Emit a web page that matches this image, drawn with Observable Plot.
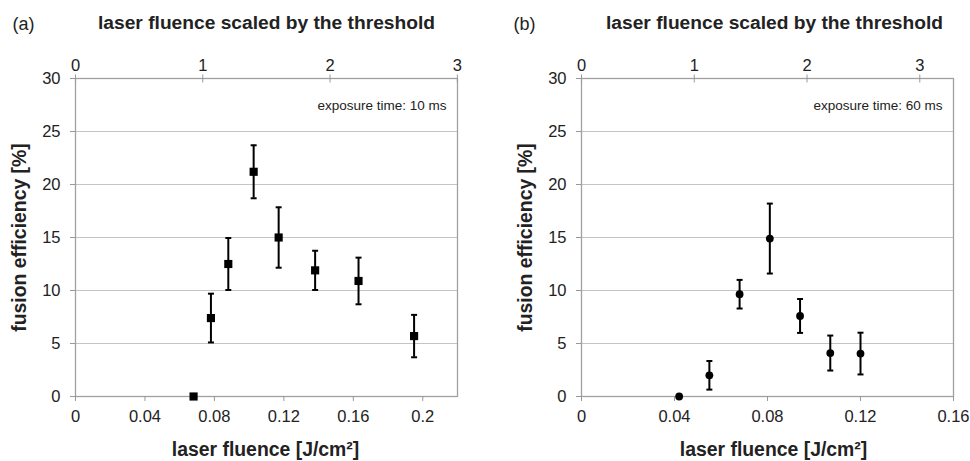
<!DOCTYPE html>
<html><head><meta charset="utf-8">
<script src="https://cdn.jsdelivr.net/npm/d3@7"></script>
<script src="https://cdn.jsdelivr.net/npm/@observablehq/plot@0.6"></script>
<style>
body{margin:0;background:#fff;}
#wrap{display:flex;width:970px;height:461px;overflow:hidden;}
#wrap svg{font-family:"Liberation Sans",Arial,sans-serif;display:block;}
</style></head><body><div id="wrap"></div>
<script>
const panelLabels = ["(a)", "(b)"];
const topTitle = "laser fluence scaled by the threshold";
const xTitle = "laser fluence [J/cm²]";
const yTitle = "fusion efficiency [%]";
const exposureLabels = ["exposure time: 10 ms", "exposure time: 60 ms"];

const yTicks = [0, 5, 10, 15, 20, 25, 30];
const topTickValues = [0, 1, 2, 3];
const topTickLabels = ["0", "1", "2", "3"];
const thresholdA = 0.0733; // J/cm² corresponding to scaled value 1
const thresholdB = 0.0485;

const xTicksA = [0, 0.04, 0.08, 0.12, 0.16, 0.2];
const xTickLabelsA = ["0", "0.04", "0.08", "0.12", "0.16", "0.2"];
const xTicksB = [0, 0.04, 0.08, 0.12, 0.16];
const xTickLabelsB = ["0", "0.04", "0.08", "0.12", "0.16"];

const fluenceA = [0.068, 0.078, 0.088, 0.1026, 0.117, 0.138, 0.163, 0.195];
const efficiencyA = [0, 7.4, 12.5, 21.2, 15.0, 11.9, 10.9, 5.7];
const errorA = [0, 2.3, 2.45, 2.5, 2.85, 1.85, 2.2, 2.0];

const fluenceB = [0.042, 0.055, 0.068, 0.081, 0.094, 0.107, 0.120];
const efficiencyB = [0, 2.0, 9.65, 14.9, 7.6, 4.1, 4.05];
const errorB = [0, 1.35, 1.35, 3.3, 1.6, 1.65, 1.97];

const capSymbol = {draw(ctx) { ctx.moveTo(-3, 0); ctx.lineTo(3, 0); }};
const vTickSymbol = {draw(ctx) { ctx.moveTo(0, -4); ctx.lineTo(0, 4); }};

function panel(cfg) {
  const data = cfg.x.map((x, i) => ({x, y: cfg.y[i], e: cfg.err[i]}));
  const withErr = data.filter(d => d.e > 0);
  const topVals = topTickValues.map(v => v * cfg.threshold);
  return Plot.plot({
    width: 485, height: 461,
    marginLeft: cfg.ml, marginRight: cfg.mr, marginTop: 78, marginBottom: 65,
    style: {fontFamily: '"Liberation Sans", Arial, sans-serif', fontSize: "16px", color: "#222", background: "#fff"},
    x: {domain: cfg.domain, type: "linear"},
    y: {domain: [0, 30]},
    marks: [
      Plot.gridY(yTicks.slice(1), {stroke: "#c4c4c4", strokeOpacity: 1, strokeWidth: 1}),
      Plot.frame({stroke: "#a0a0a0", strokeWidth: 1.3}),
      Plot.axisY({ticks: yTicks, tickSize: 5, tickPadding: 10, label: null, stroke: "#999", fontSize: 16.5}),
      Plot.axisX({anchor: "bottom", ticks: cfg.xTicks, tickFormat: (d, i) => cfg.xLabels[i], tickSize: 5, tickPadding: 9, label: null, stroke: "#999", fontSize: 16.5}),
      Plot.axisX({anchor: "top", ticks: topVals, tickFormat: (d, i) => topTickLabels[i], tickSize: 0, tickPadding: 8, label: null, fontSize: 16.5}),
      Plot.dot(topVals, {x: d => d, frameAnchor: "top", symbol: vTickSymbol, stroke: "#999", strokeWidth: 1}),
      Plot.ruleX(withErr, {x: "x", y1: d => d.y - d.e, y2: d => d.y + d.e, stroke: "#000", strokeWidth: 2}),
      Plot.dot(withErr, {x: "x", y: d => d.y + d.e, symbol: capSymbol, stroke: "#000", strokeWidth: 2}),
      Plot.dot(withErr, {x: "x", y: d => d.y - d.e, symbol: capSymbol, stroke: "#000", strokeWidth: 2}),
      Plot.dot(data, {x: "x", y: "y", symbol: cfg.symbol, r: cfg.r, fill: "#000", stroke: "none"}),
      Plot.text([cfg.exposure], {frameAnchor: "top-right", lineAnchor: "middle", dx: -11, dy: 27, textAnchor: "end", fontSize: 13.5, fill: "#222"}),
      Plot.text([topTitle], {frameAnchor: "top", lineAnchor: "middle", textAnchor: "middle", dx: cfg.titleDx, dy: -56, fontWeight: "bold", fontSize: 19.2, fill: "#222"}),
      Plot.text([cfg.label], {frameAnchor: "top-left", lineAnchor: "middle", dx: cfg.labelDx, dy: -54, textAnchor: "start", fontSize: 18, fill: "#222"}),
      Plot.text([xTitle], {frameAnchor: "bottom", lineAnchor: "middle", textAnchor: "middle", dx: cfg.titleDx - 1, dy: 53, fontWeight: "bold", fontSize: 19.4, fill: "#222"}),
      Plot.text([yTitle], {frameAnchor: "left", lineAnchor: "middle", textAnchor: "middle", dx: cfg.yTitleDx, dy: 0, rotate: -90, fontWeight: "bold", fontSize: 19.4, fill: "#222"})
    ]
  });
}

const wrap = document.getElementById("wrap");
wrap.appendChild(panel({
  x: fluenceA, y: efficiencyA, err: errorA, threshold: thresholdA,
  domain: [0, 0.22], xTicks: xTicksA, xLabels: xTickLabelsA,
  ml: 75, mr: 28, symbol: "square", r: 4.6, exposure: exposureLabels[0],
  label: panelLabels[0], titleDx: 0, labelDx: -63, yTitleDx: -56
}));
wrap.appendChild(panel({
  x: fluenceB, y: efficiencyB, err: errorB, threshold: thresholdB,
  domain: [0, 0.16], xTicks: xTicksB, xLabels: xTickLabelsB,
  ml: 96, mr: 17, symbol: "circle", r: 3.9, exposure: exposureLabels[1],
  label: panelLabels[1], titleDx: 7, labelDx: -68, yTitleDx: -56
}));
</script>
</body></html>
